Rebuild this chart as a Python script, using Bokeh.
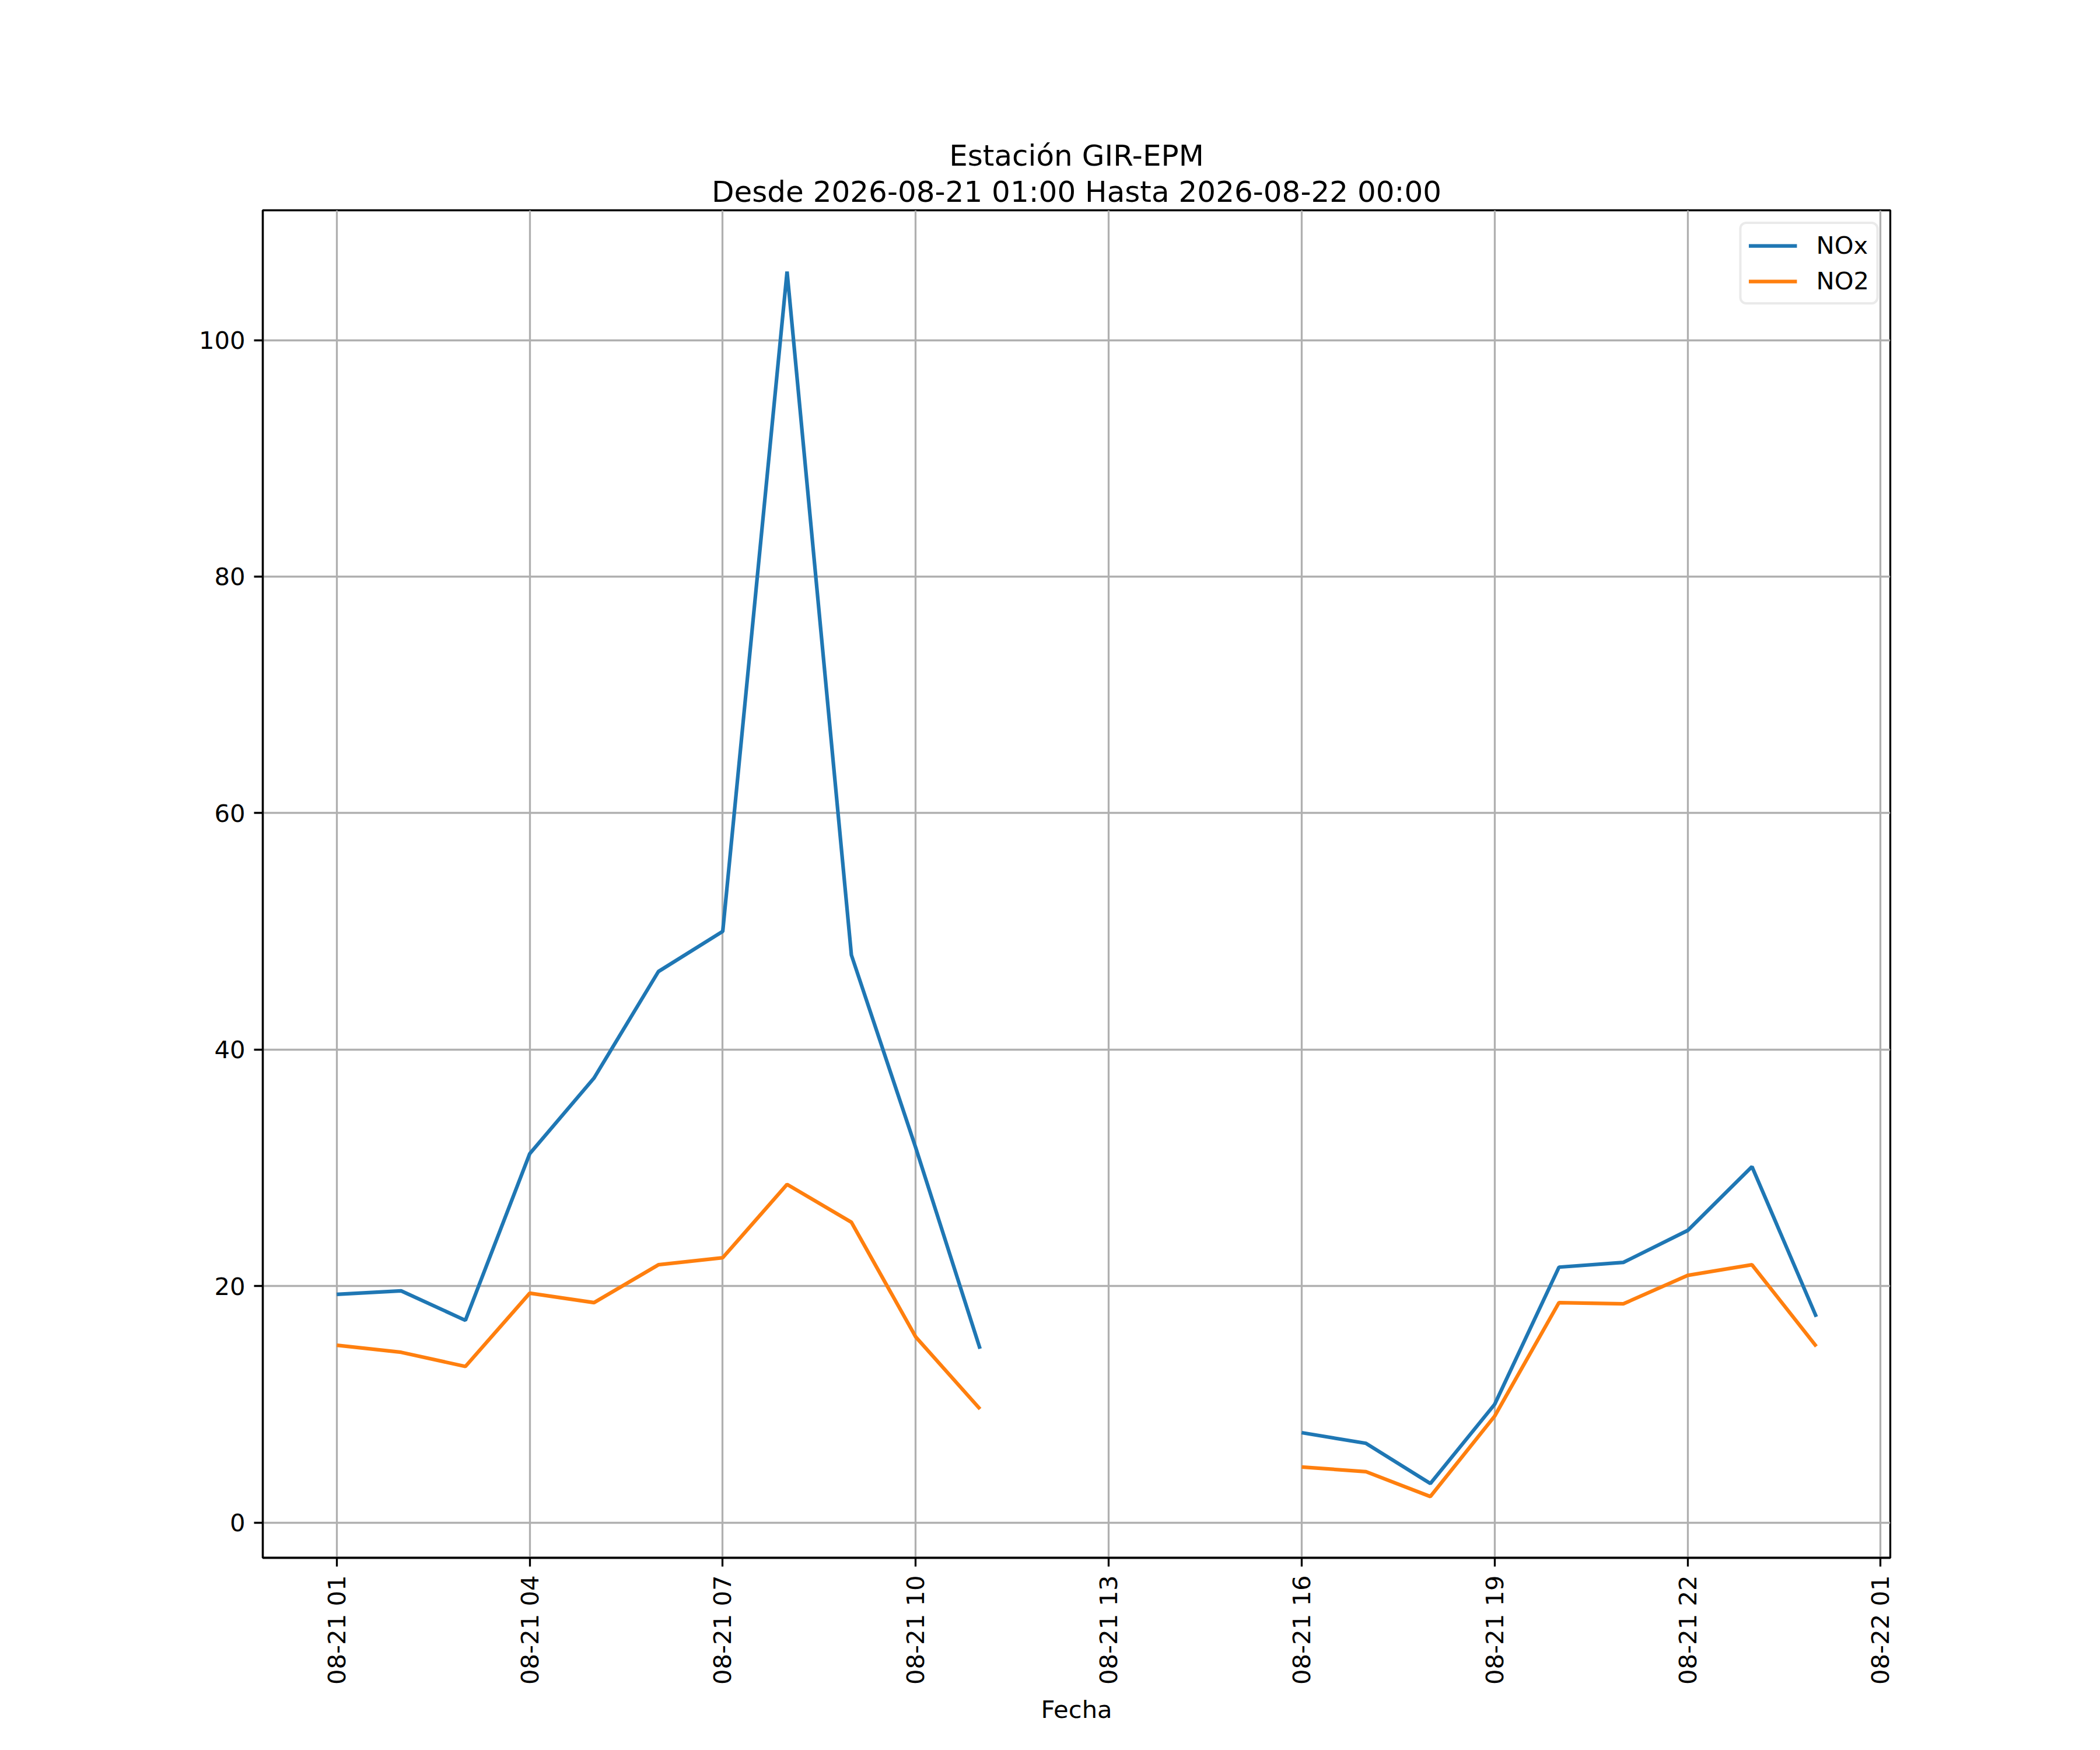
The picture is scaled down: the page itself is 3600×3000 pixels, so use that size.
import numpy as np
import pandas as pd
from bokeh.plotting import figure
from bokeh.embed import file_html
from bokeh.resources import INLINE
from bokeh.models import FixedTicker, DatetimeTickFormatter, Range1d, Title

# datos horarios de la estacion
fechas = [
    "2026-08-21 01:00", "2026-08-21 02:00", "2026-08-21 03:00", "2026-08-21 04:00",
    "2026-08-21 05:00", "2026-08-21 06:00", "2026-08-21 07:00", "2026-08-21 08:00",
    "2026-08-21 09:00", "2026-08-21 10:00", "2026-08-21 11:00", "2026-08-21 12:00",
    "2026-08-21 13:00", "2026-08-21 14:00", "2026-08-21 15:00", "2026-08-21 16:00",
    "2026-08-21 17:00", "2026-08-21 18:00", "2026-08-21 19:00", "2026-08-21 20:00",
    "2026-08-21 21:00", "2026-08-21 22:00", "2026-08-21 23:00", "2026-08-22 00:00",
]
nox = [19.3, 19.6, 17.1, 31.2, 37.6, 46.6, 50.0, 105.8, 48.0, 31.7, 14.7,
       None, None, None, None,
       7.6, 6.7, 3.3, 10.0, 21.6, 22.0, 24.7, 30.1, 17.4]
no2 = [15.0, 14.4, 13.2, 19.4, 18.6, 21.8, 22.4, 28.6, 25.4, 15.7, 9.6,
       None, None, None, None,
       4.7, 4.3, 2.2, 9.0, 18.6, 18.5, 20.9, 21.8, 14.9]

ticks_x = ["2026-08-21 01:00", "2026-08-21 04:00", "2026-08-21 07:00",
           "2026-08-21 10:00", "2026-08-21 13:00", "2026-08-21 16:00",
           "2026-08-21 19:00", "2026-08-21 22:00", "2026-08-22 01:00"]
ticks_y = [0, 20, 40, 60, 80, 100]

titulo_1 = "Estación GIR-EPM"
titulo_2 = "Desde 2026-08-21 01:00 Hasta 2026-08-22 00:00"

FONT = "DejaVu Sans"
TICK = "41.7px"
LW = 3.3

x = pd.to_datetime(fechas)
y_nox = np.array(nox, dtype=float)
y_no2 = np.array(no2, dtype=float)

def ms(t):
    return pd.Timestamp(t).timestamp() * 1000.0

x0, x1 = ms(x[0]), ms(x[-1])
xpad = 0.05 * (x1 - x0)
ymin = np.nanmin([np.nanmin(y_nox), np.nanmin(y_no2)])
ymax = np.nanmax([np.nanmax(y_nox), np.nanmax(y_no2)])
ypad = 0.05 * (ymax - ymin)

p = figure(width=3584, height=2984, x_axis_type="datetime",
           output_backend="svg", toolbar_location=None,
           x_range=Range1d(x0 - xpad, x1 + xpad),
           y_range=Range1d(ymin - ypad, ymax + ypad),
           min_border_left=450, min_border_right=344,
           min_border_top=360, min_border_bottom=314)

# primera linea arriba; la segunda se añade y queda junto al marco
p.title.text = titulo_1
p.title.align = "center"
p.title.text_font = FONT
p.title.text_font_size = "50px"
p.title.text_font_style = "normal"
p.title.text_color = "black"
p.title.standoff = 0
p.add_layout(Title(text=titulo_2, align="center", text_font=FONT,
                   text_font_size="50px", text_font_style="normal",
                   text_color="black", standoff=5), "above")

p.line(x, y_nox, color="#1f77b4", line_width=6.25, legend_label="NOx")
p.line(x, y_no2, color="#ff7f0e", line_width=6.25, legend_label="NO2")

p.xaxis.ticker = FixedTicker(ticks=[ms(t) for t in ticks_x])
fmt = "%m-%d %H"
p.xaxis.formatter = DatetimeTickFormatter(minutes=fmt, hourmin=fmt, hours=fmt,
                                          days=fmt, months=fmt, years=fmt)
p.xaxis.major_label_orientation = np.pi / 2
p.xaxis.axis_label = "Fecha"
p.xaxis.axis_label_text_font = FONT
p.xaxis.axis_label_text_font_size = TICK
p.xaxis.axis_label_text_font_style = "normal"
p.xaxis.axis_label_text_color = "black"
p.xaxis.axis_label_standoff = 15

p.yaxis.ticker = FixedTicker(ticks=ticks_y)

for ax in (p.xaxis, p.yaxis):
    ax.major_label_text_font = FONT
    ax.major_label_text_font_size = TICK
    ax.major_label_text_color = "black"
    ax.major_label_standoff = 15
    ax.axis_line_color = "black"
    ax.axis_line_width = LW
    ax.major_tick_line_color = "black"
    ax.major_tick_line_width = LW
    ax.major_tick_in = 0
    ax.major_tick_out = 15
    ax.minor_tick_line_color = None

p.outline_line_color = "black"
p.outline_line_width = LW
p.outline_line_alpha = 1

p.grid.grid_line_color = "#b0b0b0"
p.grid.grid_line_width = LW

leg = p.legend[0]
leg.location = "top_right"
leg.margin = 20
leg.padding = 12
leg.spacing = 12
leg.glyph_width = 83
leg.glyph_height = 42
leg.label_height = 42
leg.label_standoff = 33
leg.label_text_font = FONT
leg.label_text_font_size = TICK
leg.label_text_color = "black"
leg.border_line_color = "#d5d5d5"
leg.border_line_width = 4
leg.background_fill_alpha = 0.8
if "border_radius" in leg.properties():
    leg.border_radius = 12

open("out.html", "w").write(file_html(p, INLINE, "Estación GIR-EPM"))
